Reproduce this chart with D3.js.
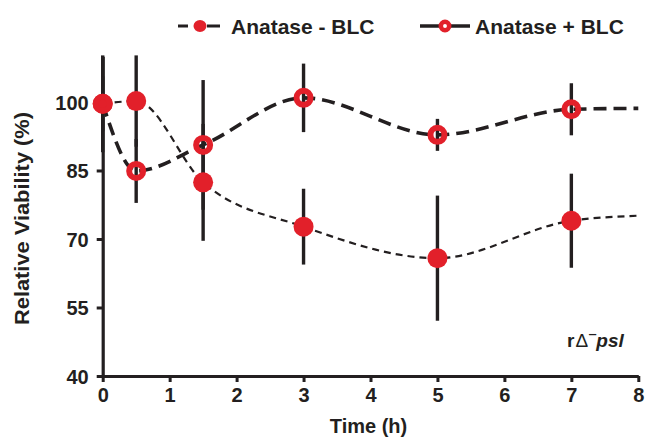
<!DOCTYPE html>
<html>
<head>
<meta charset="utf-8">
<script src="https://cdn.jsdelivr.net/npm/d3@7"></script>
<style>
  html, body { margin: 0; padding: 0; background: #fff; }
  svg { display: block; font-family: "Liberation Sans", Arial, Helvetica, sans-serif; }
</style>
</head>
<body>
<svg id="chart" width="646" height="439"></svg>
<script>
// Sampling times (h); the last entry only carries the curve to the axis end
const times = [0, 0.5, 1.5, 3, 5, 7, 8];

// Relative viability (%) and standard deviations per series
const minusBLC = [99.6, 100.2, 82.4, 72.7, 65.8, 74.0, 75.1];
const minusBLCErr = [10.6, 10, 12.8, 8.3, 13.7, 10.3, null];
const plusBLC = [99.6, 84.9, 90.6, 100.9, 92.8, 98.4, 98.6];
const plusBLCErr = [6, 7, 14.2, 7.5, 3.5, 5.7, null];

const xTicks = [0, 1, 2, 3, 4, 5, 6, 7, 8];
const yTicks = [40, 55, 70, 85, 100];

const seriesNames = ["Anatase - BLC", "Anatase + BLC"];

const INK = "#231f20";
const RED = "#e2202a";

const svg = d3.select("#chart");

const x = d3.scaleLinear().domain([0, 8]).range([102.7, 638.3]);
const y = d3.scaleLinear().domain([40, 110]).range([376, 56.3]);

// Axes
const xAxis = svg.append("g")
  .attr("transform", `translate(0,${y(40)})`)
  .call(d3.axisBottom(x).tickValues(xTicks).tickSize(6).tickSizeOuter(0).tickPadding(6));
const yAxis = svg.append("g")
  .attr("transform", `translate(${x(0)},0)`)
  .call(d3.axisLeft(y).tickValues(yTicks).tickSize(6).tickSizeOuter(0).tickPadding(8));

[xAxis, yAxis].forEach(g => {
  g.select(".domain").attr("stroke", INK).attr("stroke-width", 3.2);
  g.selectAll(".tick line").attr("stroke", INK).attr("stroke-width", 3);
  g.selectAll(".tick text")
    .attr("fill", INK)
    .style("font-family", "'Liberation Sans', Arial, sans-serif")
    .style("font-size", "20px")
    .style("font-weight", "bold");
});
yAxis.selectAll(".tick text").attr("dy", "0.36em");

// Axis titles
svg.append("text")
  .attr("x", x(4) - 2).attr("y", 433)
  .attr("text-anchor", "middle")
  .attr("fill", INK)
  .style("font-size", "20px").style("font-weight", "bold")
  .text("Time (h)");

svg.append("text")
  .attr("transform", `translate(29,${218.5}) rotate(-90)`)
  .attr("text-anchor", "middle")
  .attr("fill", INK)
  .attr("textLength", 213).attr("lengthAdjust", "spacingAndGlyphs")
  .style("font-size", "20px").style("font-weight", "bold")
  .text("Relative Viability (%)");

// Error bars
const errPoints = [];
times.forEach((t, i) => {
  if (minusBLCErr[i] != null) errPoints.push({ t, v: minusBLC[i], e: minusBLCErr[i] });
  if (plusBLCErr[i] != null) errPoints.push({ t, v: plusBLC[i], e: plusBLCErr[i] });
});
svg.append("g").selectAll("line").data(errPoints).join("line")
  .attr("x1", d => x(d.t)).attr("x2", d => x(d.t))
  .attr("y1", d => y(d.v + d.e)).attr("y2", d => y(d.v - d.e))
  .attr("stroke", INK).attr("stroke-width", 3.4);

// Curves
const line = d3.line()
  .x((d, i) => x(times[i]))
  .y(d => y(d))
  .curve(d3.curveMonotoneX);

svg.append("path").datum(minusBLC)
  .attr("d", line).attr("fill", "none")
  .attr("stroke", INK).attr("stroke-width", 2.2)
  .attr("stroke-dasharray", "7,5");

svg.append("path").datum(plusBLC)
  .attr("d", line).attr("fill", "none")
  .attr("stroke", INK).attr("stroke-width", 3.6)
  .attr("stroke-dasharray", "13,7");

// Markers
const idx = times.map((t, i) => i).filter(i => minusBLCErr[i] != null);
svg.append("g").selectAll("circle").data(idx).join("circle")
  .attr("cx", i => x(times[i])).attr("cy", i => y(minusBLC[i]))
  .attr("r", 10).attr("fill", RED);

const idx2 = times.map((t, i) => i).filter(i => plusBLCErr[i] != null);
svg.append("g").selectAll("circle").data(idx2).join("circle")
  .attr("cx", i => x(times[i])).attr("cy", i => y(plusBLC[i]))
  .attr("r", 7).attr("fill", "none").attr("stroke", RED).attr("stroke-width", 6);

// Legend
const lg = svg.append("g");
lg.append("line").attr("x1", 178).attr("x2", 220).attr("y1", 26).attr("y2", 26)
  .attr("stroke", INK).attr("stroke-width", 3).attr("stroke-dasharray", "10,19,13");
lg.append("ellipse").attr("cx", 200).attr("cy", 26).attr("rx", 6.5).attr("ry", 6)
  .attr("fill", RED);
lg.append("text").attr("x", 231).attr("y", 33.5)
  .attr("fill", INK).style("font-size", "21px").style("font-weight", "bold")
  .text(seriesNames[0]);

lg.append("line").attr("x1", 420).attr("x2", 470).attr("y1", 26).attr("y2", 26)
  .attr("stroke", INK).attr("stroke-width", 3.6);
lg.append("circle").attr("cx", 445).attr("cy", 26).attr("r", 4.2)
  .attr("fill", "#fff").attr("stroke", RED).attr("stroke-width", 4.5);
lg.append("text").attr("x", 475).attr("y", 33.5)
  .attr("fill", INK).style("font-size", "21px").style("font-weight", "bold")
  .text(seriesNames[1]);

// Strain annotation
const ann = svg.append("text").attr("x", 567).attr("y", 347)
  .attr("fill", INK).style("font-size", "19px");
ann.append("tspan").style("font-weight", "bold").text("r");
ann.append("tspan").style("font-weight", "normal").attr("dx", 1).text("\u0394");
ann.append("tspan").style("font-weight", "bold").attr("dx", 1).attr("dy", -9).style("font-size", "13px").text("\u2012");
ann.append("tspan").style("font-weight", "bold").style("font-style", "italic").attr("dy", 9).text("psl");
</script>
</body>
</html>
